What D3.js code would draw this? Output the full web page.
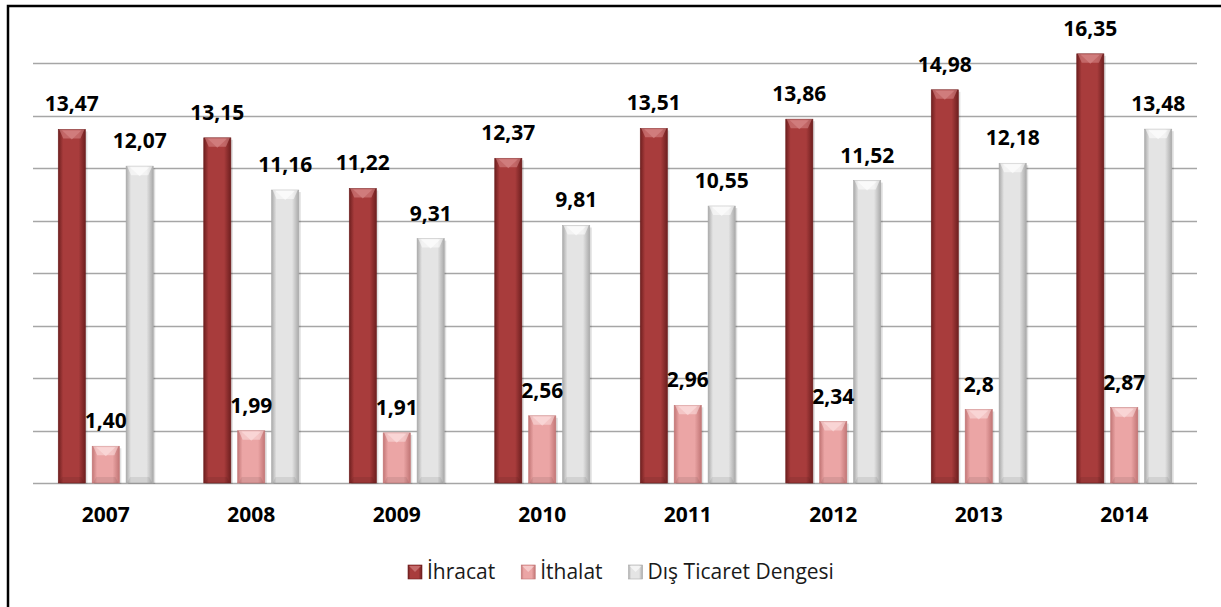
<!DOCTYPE html>
<html>
<head>
<meta charset="utf-8">
<script src="https://cdn.jsdelivr.net/npm/d3@7"></script>
<style>
  html, body { margin: 0; padding: 0; background: #fff; }
  svg { display: block; }
  text { font-family: "Liberation Sans Narrow", "Open Sans", sans-serif; }
</style>
</head>
<body>
<div id="chart"></div>
<script>
// data
var years = ["2007", "2008", "2009", "2010", "2011", "2012", "2013", "2014"];
var seriesNames = ["İhracat", "İthalat", "Dış Ticaret Dengesi"];
var ihracat = [13.47, 13.15, 11.22, 12.37, 13.51, 13.86, 14.98, 16.35];
var ithalat = [1.40, 1.99, 1.91, 2.56, 2.96, 2.34, 2.8, 2.87];
var denge = [12.07, 11.16, 9.31, 9.81, 10.55, 11.52, 12.18, 13.48];
var ithalatLabels = ["1,40", "1,99", "1,91", "2,56", "2,96", "2,34", "2,8", "2,87"];
var gridTicks = [0, 2, 4, 6, 8, 10, 12, 14, 16];

var W = 1221, H = 607;

var svg = d3.select("#chart").append("svg")
  .attr("width", W)
  .attr("height", H);

// gradients for the bevelled bars
var defs = svg.append("defs");
var colours = [
  {id: "g0", edge: "#6e1f1f", mid: "#a83c3c", light: "#d98a8a"},
  {id: "g1", edge: "#c27676", mid: "#eba5a5", light: "#fbe0e0"},
  {id: "g2", edge: "#aaaaaa", mid: "#e4e4e4", light: "#ffffff"}
];
colours.forEach(function(c) {
  var lg = defs.append("linearGradient").attr("id", c.id)
    .attr("x1", "0").attr("x2", "1").attr("y1", "0").attr("y2", "0");
  lg.append("stop").attr("offset", "0%").attr("stop-color", c.edge);
  lg.append("stop").attr("offset", "18%").attr("stop-color", c.mid);
  lg.append("stop").attr("offset", "75%").attr("stop-color", c.mid);
  lg.append("stop").attr("offset", "100%").attr("stop-color", c.edge);
});

// frame (top and left edges visible)
svg.append("rect")
  .attr("x", 8).attr("y", 6)
  .attr("width", W + 20).attr("height", H + 20)
  .attr("fill", "none")
  .attr("stroke", "#000")
  .attr("stroke-width", 2.5);

var plotLeft = 33, plotRight = 1197, baseY = 483;

var y = d3.scaleLinear().domain([0, 18]).range([baseY, baseY - 18 * 26.25]);
var x0 = d3.scaleBand().domain(years).range([plotLeft, plotRight]);
var x1 = d3.scaleBand().domain(seriesNames).range([0, 95]).paddingInner(0.2);
var groupOffset = (x0.bandwidth() - 95) / 2;

// gridlines
svg.append("g").selectAll("line")
  .data(gridTicks)
  .enter().append("line")
  .attr("x1", plotLeft).attr("x2", plotRight)
  .attr("y1", function(d) { return Math.round(y(d)) + 0.5; })
  .attr("y2", function(d) { return Math.round(y(d)) + 0.5; })
  .attr("stroke", "#a6a6a6")
  .attr("stroke-width", 1.5);

var series = [ihracat, ithalat, denge];
var labelSets = [
  ihracat.map(function(v) { return v.toFixed(2).replace(".", ","); }),
  ithalatLabels,
  denge.map(function(v) { return v.toFixed(2).replace(".", ","); })
];

var bars = [];
series.forEach(function(vals, s) {
  vals.forEach(function(v, i) {
    bars.push({s: s, name: seriesNames[s], year: years[i], value: v, label: labelSets[s][i]});
  });
});

var barG = svg.append("g");
var bw = x1.bandwidth();

var bar = barG.selectAll("g.bar")
  .data(bars)
  .enter().append("g")
  .attr("class", "bar")
  .attr("transform", function(d) {
    return "translate(" + (x0(d.year) + groupOffset + x1(d.name)) + ",0)";
  });

// shadow
bar.append("rect")
  .attr("x", 2).attr("y", function(d) { return y(d.value) + 2; })
  .attr("width", bw).attr("height", function(d) { return baseY - y(d.value) - 1; })
  .attr("fill", "#000").attr("opacity", 0.12);

bar.append("rect")
  .attr("x", 0).attr("y", function(d) { return y(d.value); })
  .attr("width", bw).attr("height", function(d) { return baseY - y(d.value); })
  .attr("fill", function(d) { return "url(#g" + d.s + ")"; })
  .attr("stroke", function(d) { return colours[d.s].edge; })
  .attr("stroke-width", 0.6);

// top bevel
bar.append("path")
  .attr("d", function(d) {
    var t = y(d.value);
    return "M1," + t + "L" + (bw - 1) + "," + t + "L" + (bw - 5) + "," + (t + 9) +
      "L5," + (t + 9) + "Z";
  })
  .attr("fill", function(d) { return colours[d.s].light; })
  .attr("opacity", 0.55);
bar.append("path")
  .attr("d", function(d) {
    var t = y(d.value);
    return "M4," + (t + 1) + "L" + (bw - 4) + "," + (t + 1) + "L" + (bw / 2) + "," + (t + 10) + "Z";
  })
  .attr("fill", function(d) { return colours[d.s].light; })
  .attr("opacity", 0.6);

// bottom soft edge
bar.append("path")
  .attr("d", function(d) {
    return "M1," + baseY + "L4," + (baseY - 6) + "L" + (bw - 4) + "," + (baseY - 6) + "L" + (bw - 1) + "," + baseY + "Z";
  })
  .attr("fill", "#000").attr("opacity", 0.08);

// value labels
barG.selectAll("text.val")
  .data(bars)
  .enter().append("text")
  .attr("class", "val")
  .attr("x", function(d) { return x0(d.year) + groupOffset + x1(d.name) + bw / 2; })
  .attr("y", function(d) { return y(d.value) - 18; })
  .attr("text-anchor", "middle")
  .attr("font-weight", "bold")
  .attr("font-size", 21)
  .attr("fill", "#000")
  .text(function(d) { return d.label; });

// year labels
svg.append("g").selectAll("text")
  .data(years)
  .enter().append("text")
  .attr("x", function(d) { return x0(d) + x0.bandwidth() / 2; })
  .attr("y", 522)
  .attr("text-anchor", "middle")
  .attr("font-weight", "bold")
  .attr("font-size", 21)
  .text(function(d) { return d; });

// legend
var legend = svg.append("g").attr("transform", "translate(408,565)");
var lx = 0;
seriesNames.forEach(function(name, s) {
  var item = legend.append("g").attr("transform", "translate(" + lx + ",0)");
  item.append("rect")
    .attr("width", 14).attr("height", 14)
    .attr("fill", "url(#g" + s + ")")
    .attr("stroke", colours[s].edge).attr("stroke-width", 0.6);
  item.append("path")
    .attr("d", "M1,1L13,1L7,7Z")
    .attr("fill", colours[s].light).attr("opacity", 0.6);
  var t = item.append("text")
    .attr("x", 19).attr("y", 14)
    .attr("font-size", 21)
    .attr("fill", "#1a1a1a")
    .text(name);
  lx += 19 + t.node().getComputedTextLength() + 26;
});
</script>
</body>
</html>
